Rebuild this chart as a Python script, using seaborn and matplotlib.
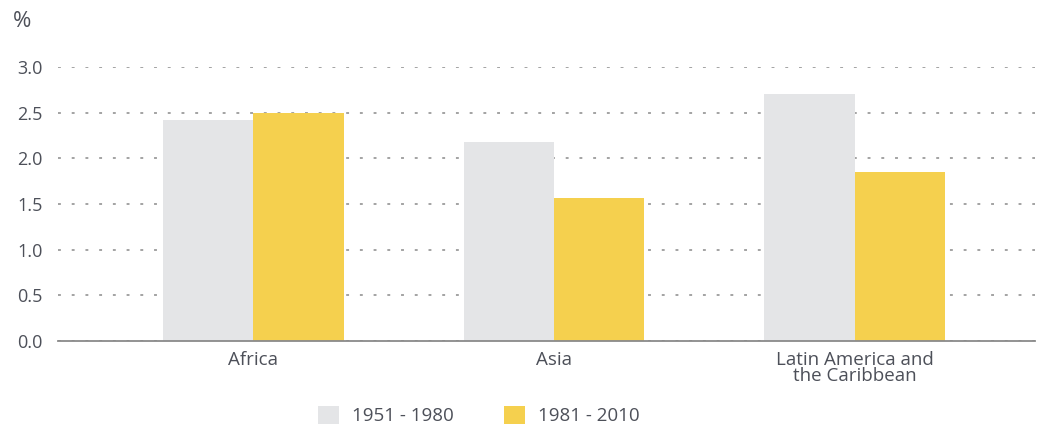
import matplotlib.pyplot as plt
import pandas as pd
import seaborn as sns
from matplotlib.patches import Patch

# values
regions = ["Africa", "Asia", "Latin America and\nthe Caribbean"]
period_1951_1980 = [2.42, 2.18, 2.70]
period_1981_2010 = [2.50, 1.57, 1.85]
periods = ["1951 - 1980", "1981 - 2010"]
yticks = [0.0, 0.5, 1.0, 1.5, 2.0, 2.5, 3.0]

colors = {"1951 - 1980": "#e4e5e7", "1981 - 2010": "#f5d04e"}
text_color = "#4d5059"

df = pd.DataFrame({
    "region": regions * 2,
    "value": period_1951_1980 + period_1981_2010,
    "period": [periods[0]] * 3 + [periods[1]] * 3,
})

sns.set_style("white")
plt.rcParams["font.family"] = ["Open Sans", "DejaVu Sans"]

fig = plt.figure(figsize=(10.37, 4.26), dpi=100)
ax = fig.add_axes([0.056, 0.1995, 0.942, 0.643])

sns.barplot(data=df, x="region", y="value", hue="period", palette=colors,
            width=0.6, saturation=1, linewidth=0, legend=False, ax=ax)

ax.set_xlim(-0.65, 2.6)
ax.set_ylim(0, 3.0)
ax.set_yticks(yticks)
ax.set_yticklabels([f"{t:.1f}" for t in yticks])
ax.set_axisbelow(True)
ax.yaxis.grid(True, linestyle=(0, (1.6, 6.0)), color="#9c9c9c", linewidth=1.3)
ax.xaxis.grid(False)

for side in ["left", "right", "top"]:
    ax.spines[side].set_visible(False)
ax.spines["bottom"].set_color("#8a8a8a")
ax.spines["bottom"].set_linewidth(1.3)

ax.tick_params(axis="y", length=0, pad=11, labelsize=13, labelcolor=text_color)
ax.tick_params(axis="x", length=0, pad=7, labelsize=13.5, labelcolor=text_color)
for lbl in ax.get_xticklabels():
    lbl.set_linespacing(0.86)
ax.set_xlabel("")
ax.set_ylabel("")

fig.text(0.012, 0.95, "%", fontsize=16, color=text_color, va="center", ha="left")

handles = [Patch(facecolor=colors[p], edgecolor="none") for p in periods]
fig.legend(handles, periods, loc="center", bbox_to_anchor=(0.462, 0.025),
           ncol=2, frameon=False, fontsize=13.5, handlelength=1.1, handleheight=1.1,
           columnspacing=2.7, handletextpad=0.7, labelcolor=text_color,
           borderaxespad=0, borderpad=0)

fig.savefig("out.png", dpi=100)
